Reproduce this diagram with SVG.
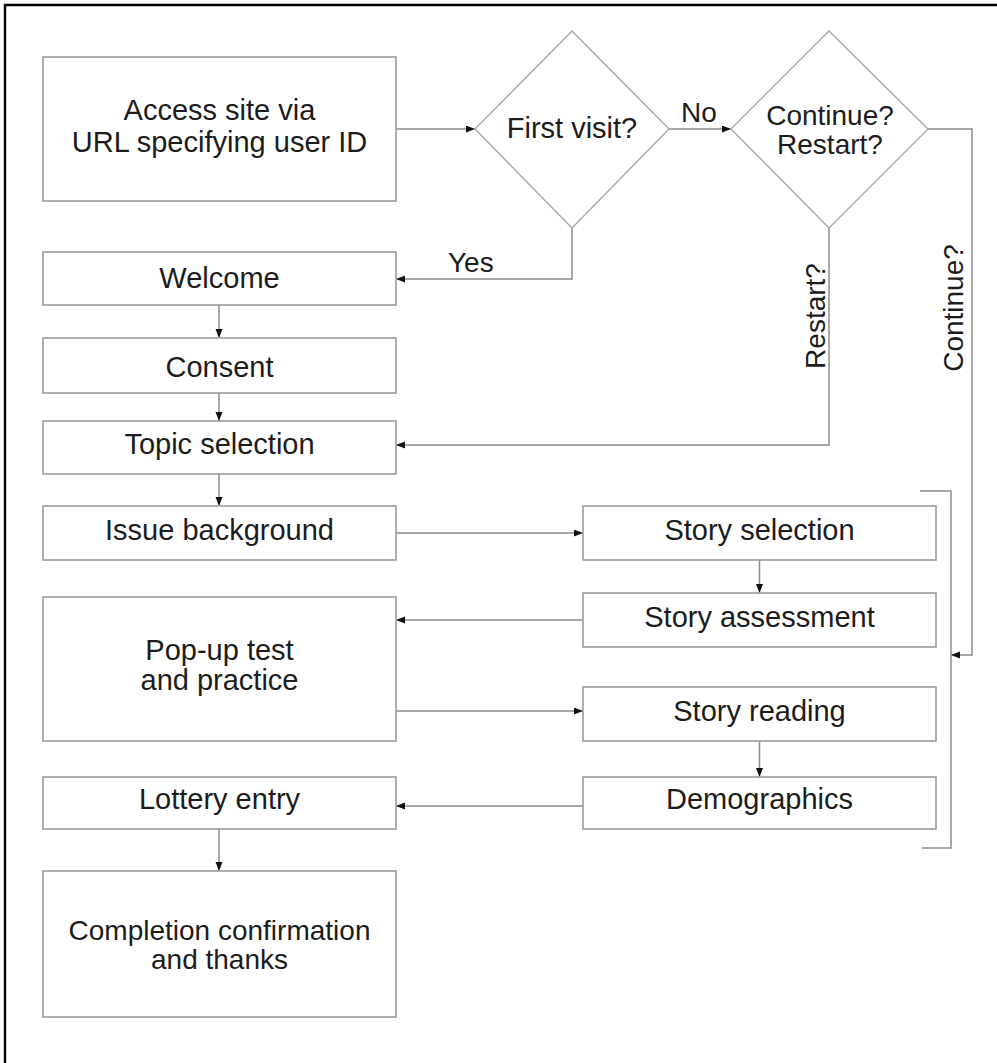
<svg xmlns="http://www.w3.org/2000/svg" width="997" height="1063" viewBox="0 0 997 1063">
<style>
  .box { fill: #ffffff; stroke: #9c9c9c; stroke-width: 1.6; }
  .dia { fill: #ffffff; stroke: #a8a8a8; stroke-width: 1.4; }
  .t { font-family: "Liberation Sans", Arial, sans-serif; font-size: 29px; fill: #1c1c1c; text-anchor: middle; }
  .t2 { font-family: "Liberation Sans", Arial, sans-serif; font-size: 28px; fill: #1c1c1c; text-anchor: middle; }
  .lbl { font-family: "Liberation Sans", Arial, sans-serif; font-size: 28px; fill: #1c1c1c; }
  .c { fill: none; stroke: #8e8e8e; stroke-width: 1.5; }
  .a { marker-end: url(#arr); }
</style>
<defs>
  <marker id="arr" markerUnits="userSpaceOnUse" markerWidth="10" markerHeight="8" refX="9" refY="3.5" orient="auto">
    <path d="M0,0 L9,3.5 L0,7 z" fill="#111111"/>
  </marker>
</defs>
<rect x="0" y="0" width="997" height="1063" fill="#ffffff"/>
<g id="frame">
  <path d="M5,1063 V5 H997" fill="none" stroke="#000000" stroke-width="2.4"/>
</g>
<g id="connectors">
  <path class="c a" d="M396,129 H475"/>
  <path class="c a" d="M669,129 H731"/>
  <path class="c a" d="M572,228 V279 H396"/>
  <path class="c a" d="M829,228 V445 H396"/>
  <path class="c a" d="M928,129 H972 V655 H951"/>
  <path class="c a" d="M219,305 V338"/>
  <path class="c a" d="M219,393 V421"/>
  <path class="c a" d="M219,474 V506"/>
  <path class="c a" d="M396,533 H583"/>
  <path class="c a" d="M759.5,560 V593"/>
  <path class="c a" d="M583,620 H396"/>
  <path class="c a" d="M396,711 H583"/>
  <path class="c a" d="M759.5,741 V777"/>
  <path class="c a" d="M583,806 H396"/>
  <path class="c a" d="M219,829 V871"/>
  <path class="c" d="M920,491 H951 V848 H922"/>
  <text class="lbl" x="448" y="272">Yes</text>
  <text class="lbl" x="681" y="122">No</text>
  <text class="lbl" transform="translate(825,316) rotate(-90)" text-anchor="middle">Restart?</text>
  <text class="lbl" transform="translate(963,308) rotate(-90)" text-anchor="middle">Continue?</text>
</g>
<g id="access">
  <rect class="box" x="43" y="57" width="353" height="144"/>
  <text class="t" x="219.5" y="120">Access site via</text>
  <text class="t" x="219.5" y="152">URL specifying user ID</text>
</g>
<g id="first-visit">
  <polygon class="dia" points="572,31 669,129 572,228 475,129"/>
  <text class="t" x="572" y="138">First visit?</text>
</g>
<g id="continue-restart">
  <polygon class="dia" points="829,31 928,129 829,228 731,129"/>
  <text class="t2" x="830" y="124.5">Continue?</text>
  <text class="t2" x="830" y="153.5">Restart?</text>
</g>
<g id="welcome">
  <rect class="box" x="43" y="252" width="353" height="53"/>
  <text class="t" x="219.5" y="288">Welcome</text>
</g>
<g id="consent">
  <rect class="box" x="43" y="338" width="353" height="55"/>
  <text class="t" x="219.5" y="377">Consent</text>
</g>
<g id="topic-selection">
  <rect class="box" x="43" y="421" width="353" height="53"/>
  <text class="t" x="219.5" y="454">Topic selection</text>
</g>
<g id="issue-background">
  <rect class="box" x="43" y="506" width="353" height="54"/>
  <text class="t" x="219.5" y="540">Issue background</text>
</g>
<g id="popup-test">
  <rect class="box" x="43" y="597" width="353" height="144"/>
  <text class="t" x="219.5" y="660">Pop-up test</text>
  <text class="t" x="219.5" y="690">and practice</text>
</g>
<g id="lottery-entry">
  <rect class="box" x="43" y="777" width="353" height="52"/>
  <text class="t" x="219.5" y="809">Lottery entry</text>
</g>
<g id="completion">
  <rect class="box" x="43" y="871" width="353" height="146"/>
  <text class="t2" x="219.5" y="939.5">Completion confirmation</text>
  <text class="t2" x="219.5" y="968.5">and thanks</text>
</g>
<g id="story-selection">
  <rect class="box" x="583" y="506" width="353" height="54"/>
  <text class="t" x="759.5" y="540">Story selection</text>
</g>
<g id="story-assessment">
  <rect class="box" x="583" y="593" width="353" height="54"/>
  <text class="t" x="759.5" y="627">Story assessment</text>
</g>
<g id="story-reading">
  <rect class="box" x="583" y="687" width="353" height="54"/>
  <text class="t" x="759.5" y="721">Story reading</text>
</g>
<g id="demographics">
  <rect class="box" x="583" y="777" width="353" height="52"/>
  <text class="t" x="759.5" y="809">Demographics</text>
</g>
</svg>
